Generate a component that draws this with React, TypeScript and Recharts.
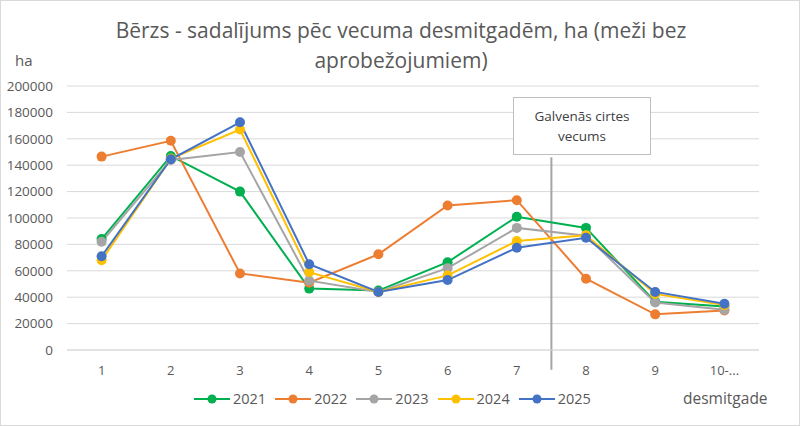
import React from "react";
import {
  LineChart,
  Line,
  XAxis,
  YAxis,
  CartesianGrid,
  ReferenceLine,
} from "recharts";

const categories = ["1", "2", "3", "4", "5", "6", "7", "8", "9", "10-..."];
const years = ["2021", "2022", "2023", "2024", "2025"];
const colors = ["#00b050", "#ed7d31", "#a5a5a5", "#ffc000", "#4472c4"];

const y2021 = [84000, 147000, 120000, 46500, 45000, 66500, 101000, 92500, 36500, 33000];
const y2022 = [146500, 158500, 58000, 51000, 72500, 109500, 113500, 54000, 27000, 30000];
const y2023 = [82000, 144000, 150000, 52500, 44000, 62000, 92500, 86500, 36000, 30500];
const y2024 = [68000, 145000, 167000, 59000, 44000, 56500, 82500, 87000, 42500, 34000];
const y2025 = [71000, 144500, 172500, 65000, 44000, 53000, 77500, 85000, 44000, 35000];

const series = [y2021, y2022, y2023, y2024, y2025];
const yTicks = [0, 20000, 40000, 60000, 80000, 100000, 120000, 140000, 160000, 180000, 200000];

// main-felling age marker sits between 7th and 8th decade
const markerX = 7.5;
const markerTop = 146000;
const markerBottom = -15000;

const data = categories.map((c, i) => {
  const row: { [key: string]: number } = { x: i + 1 };
  years.forEach((y, s) => {
    row[y] = series[s][i];
  });
  return row;
});

const textColor = "#595959";
const font = "'Open Sans', sans-serif";

export default function App() {
  return (
    <div
      style={{
        position: "absolute",
        left: 0,
        top: 0,
        width: 798,
        height: 424,
        border: "1px solid #d9d9d9",
        background: "#fff",
        fontFamily: font,
      }}
    >
      <div
        style={{
          position: "absolute",
          top: 15,
          left: 0,
          width: 800,
          textAlign: "center",
          fontSize: 21,
          lineHeight: "29.5px",
          color: textColor,
        }}
      >
        Bērzs - sadalījums pēc vecuma desmitgadēm, ha (meži bez
        <br />
        aprobežojumiem)
      </div>
      <div style={{ position: "absolute", left: 14, top: 49, fontSize: 15, color: textColor }}>ha</div>
      <LineChart
        width={800}
        height={426}
        data={data}
        margin={{ top: 85, right: 42, left: 6, bottom: 47 }}
      >
        <CartesianGrid vertical={false} stroke="#d9d9d9" />
        <XAxis
          dataKey="x"
          type="number"
          domain={[0.5, 10.5]}
          ticks={[1, 2, 3, 4, 5, 6, 7, 8, 9, 10]}
          tickFormatter={(v: number) => categories[v - 1]}
          axisLine={{ stroke: "#d9d9d9" }}
          tickLine={false}
          tickMargin={10}
          height={30}
          tick={{ fontSize: 13, fill: textColor, fontFamily: font }}
        />
        <YAxis
          domain={[0, 200000]}
          ticks={yTicks}
          axisLine={false}
          tickLine={false}
          tickMargin={8}
          width={60}
          tick={{ fontSize: 13.5, fill: textColor, fontFamily: font }}
        />
        <ReferenceLine
          segment={[
            { x: markerX, y: markerTop },
            { x: markerX, y: markerBottom },
          ]}
          stroke="#a5a5a5"
          strokeWidth={2}
          ifOverflow="visible"
        />
        {years.map((y, i) => (
          <Line
            key={y}
            type="linear"
            dataKey={y}
            stroke={colors[i]}
            strokeWidth={2}
            dot={{ r: 5, fill: colors[i], stroke: colors[i], strokeWidth: 0 }}
            activeDot={false}
            isAnimationActive={false}
          />
        ))}
      </LineChart>
      <div
        style={{
          position: "absolute",
          left: 193,
          top: 388,
          display: "flex",
          fontSize: 14.5,
          color: textColor,
        }}
      >
        {years.map((y, i) => (
          <div key={y} style={{ display: "flex", alignItems: "center", marginRight: 9 }}>
            <svg width={36} height={12} style={{ marginRight: 3 }}>
              <line x1={0} y1={6} x2={36} y2={6} stroke={colors[i]} strokeWidth={2} />
              <circle cx={18} cy={6} r={4.5} fill={colors[i]} />
            </svg>
            <span>{y}</span>
          </div>
        ))}
      </div>
      <div
        style={{
          position: "absolute",
          left: 512,
          top: 96,
          width: 138,
          height: 58,
          border: "1px solid #bfbfbf",
          background: "#fff",
          boxSizing: "border-box",
          display: "flex",
          alignItems: "center",
          justifyContent: "center",
          textAlign: "center",
          fontSize: 13.5,
          lineHeight: "20px",
          color: "#404040",
        }}
      >
        Galvenās cirtes
        <br />
        vecums
      </div>
      <div style={{ position: "absolute", left: 682, top: 386, fontSize: 15.5, color: textColor }}>
        desmitgade
      </div>
    </div>
  );
}
